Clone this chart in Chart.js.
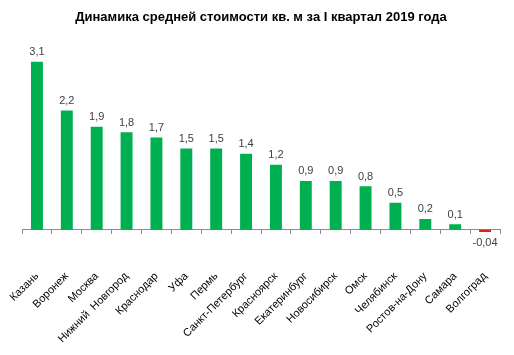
<!DOCTYPE html>
<html><head><meta charset="utf-8">
<script src="https://cdn.jsdelivr.net/npm/chart.js@4/dist/chart.umd.min.js"></script>
<style>html,body{margin:0;padding:0;background:#fff}#w{width:514px;height:355px}</style>
</head><body><div id="w"><canvas id="c"></canvas></div>
<script>
const cities = ["Казань","Воронеж","Москва","Нижний  Новгород","Краснодар","Уфа","Пермь","Санкт-Петербург","Красноярск","Екатеринбург","Новосибирск","Омск","Челябинск","Ростов-на-Дону","Самара","Волгоград"];
const values = [3.1,2.2,1.9,1.8,1.7,1.5,1.5,1.4,1.2,0.9,0.9,0.8,0.5,0.2,0.1,-0.04];
const valueLabels = ["3,1","2,2","1,9","1,8","1,7","1,5","1,5","1,4","1,2","0,9","0,9","0,8","0,5","0,2","0,1","-0,04"];
const title = "Динамика средней стоимости кв. м за I квартал 2019 года";

const labelPlugin = {
  id: 'vlabels',
  afterDatasetsDraw(chart) {
    const ctx = chart.ctx;
    const meta = chart.getDatasetMeta(0);
    ctx.save();
    ctx.font = '11px "Liberation Sans", Arial, sans-serif';
    ctx.fillStyle = '#404040';
    ctx.textAlign = 'center';
    meta.data.forEach((bar, i) => {
      if (values[i] >= 0) {
        ctx.textBaseline = 'bottom';
        ctx.fillText(valueLabels[i], bar.x, bar.y - 4);
      } else {
        ctx.textBaseline = 'top';
        ctx.fillText(valueLabels[i], bar.x, bar.y + 6);
      }
    });
    ctx.restore();
  }
};

new Chart(document.getElementById('c'), {
  type: 'bar',
  data: {
    labels: cities,
    datasets: [{
      data: values,
      backgroundColor: values.map(v => v < 0 ? '#E0201E' : '#00B050'),
      barPercentage: 0.4,
      categoryPercentage: 1.0
    }]
  },
  options: {
    responsive: true,
    maintainAspectRatio: false,
    animation: false,
    layout: { padding: { left: 22, right: 14, top: 0, bottom: 122 } },
    plugins: {
      legend: { display: false },
      tooltip: { enabled: false },
      title: {
        display: true,
        text: title,
        font: { family: '"Liberation Sans", Arial, sans-serif', size: 13, weight: 'bold' },
        color: '#000',
        padding: { top: 10, bottom: 10 }
      }
    },
    scales: {
      x: {
        position: { y: 0 },
        offset: true,
        grid: { display: true, offset: true, drawOnChartArea: false, tickLength: 4, color: '#8c8c8c' },
        border: { color: '#8c8c8c' },
        ticks: {
          maxRotation: 45, minRotation: 45, autoSkip: false,
          color: '#000',
          font: { family: '"Liberation Sans", Arial, sans-serif', size: 11 },
          padding: 36
        },
        afterFit(scale) { scale.paddingLeft = 0; scale.paddingRight = 0; scale.paddingTop = 0; scale.paddingBottom = 0; }
      },
      y: {
        display: false,
        min: -0.06,
        max: 3.58
      }
    }
  },
  plugins: [labelPlugin]
});
</script></body></html>
